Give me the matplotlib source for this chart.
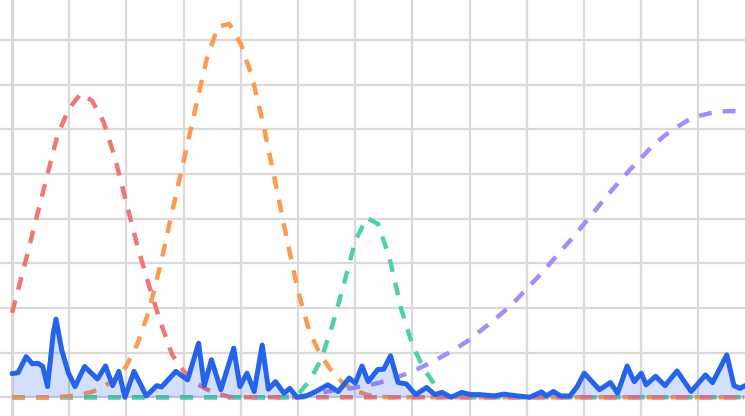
import matplotlib
matplotlib.use("Agg")
import matplotlib.pyplot as plt

# ---- data ----
dash_x = list(range(0, 130, 2))  # shared x positions for the dashed series (0..128)

red_vals = [18.9, 28.6, 38.8, 48.9, 58.9, 64.7, 68.0, 66.4, 61.7, 53.6,
            43.5, 33.5, 24.8, 16.7, 9.5, 5.9, 3.3, 1.8, 0.8, 0.1] + [0.0] * 45

orange_vals = [0.0, 0.0, 0.0, 0.0, 0.1, 0.2, 0.6, 1.2, 2.3, 4.1,
               7.0, 12.2, 19.6, 29.9, 41.5, 52.9, 64.3, 75.5, 83.0, 83.6,
               79.1, 71.7, 60.7, 48.4, 35.7, 23.8, 14.7, 9.3, 5.7, 3.0,
               1.5, 0.6, 0.1] + [0.0] * 32

green_vals = [0.0] * 25 + [0.6, 3.7, 8.3, 16.1, 25.2, 35.0, 40.2, 38.8, 31.2,
                           20.0, 11.7, 6.4, 2.6, 0.3] + [0.0] * 26

purple_vals = [0.0] * 25 + [0.1, 0.6, 1.0, 1.5, 1.8, 2.2, 2.6, 3.2, 3.9, 4.8,
                            5.8, 7.0, 8.3, 9.7, 11.2, 12.9, 15.0, 17.0, 19.2, 21.6,
                            24.3, 27.0, 29.9, 32.8, 35.7, 38.8, 41.9, 45.1, 48.0, 50.9,
                            53.6, 56.3, 58.5, 60.3, 61.9, 63.0, 63.6, 64.0, 64.1, 63.9]

blue_x = [0, 1.05, 2.47, 3.55, 4.55, 5.38, 6.21, 7.22, 7.69, 8.69, 9.84, 11.01,
          12.69, 14.93, 16.35, 17.59, 18.67, 19.74, 21.33, 23.48, 25.31, 26.14,
          28.64, 30.70, 32.62, 33.62, 34.86, 36.52, 38.76, 39.84, 41.08, 42.34,
          43.74, 44.83, 46.07, 47.55, 48.57, 49.81, 51.47, 53.13, 55.21, 57.03,
          58.95, 60.02, 61.19, 62.27, 63.93, 65.00, 66.17, 67.50, 68.92, 70.58,
          72.48, 73.90, 75.14, 76.80, 78.64, 80.12, 81.78, 84.27, 85.94, 88.43,
          90.51, 92.59, 93.41, 94.65, 95.91, 97.55, 98.81, 100.05, 102.71, 104.62,
          105.87, 107.54, 108.78, 110.02, 110.86, 112.52, 114.18, 116.26, 118.74,
          121.24, 122.48, 124.97, 126.22, 127.29, 128.15]
blue_y = [5.3, 5.5, 9.1, 7.5, 7.6, 6.9, 2.4, 14.4, 17.5, 10.6, 5.5, 2.4,
          6.9, 4.1, 7.0, 2.6, 5.8, 0.0, 5.8, 0.3, 2.6, 2.3,
          5.8, 3.9, 12.1, 2.6, 8.4, 1.7, 11.0, 2.4, 5.4, 1.3,
          11.7, 1.8, 3.5, 0.9, 2.0, 0.0, 0.3, 1.3, 2.8, 1.3,
          4.3, 3.2, 7.0, 3.5, 6.2, 6.3, 9.3, 3.3, 3.0, 0.6,
          2.2, 0.6, 1.1, 0.0, 1.1, 0.6, 0.6, 0.3, 0.7, 0.3,
          0.0, 1.2, 0.3, 1.3, 0.3, 0.3, 2.4, 5.4, 1.7, 3.3,
          0.9, 7.0, 3.5, 5.4, 2.8, 4.7, 2.6, 5.9, 1.3,
          5.0, 3.3, 9.5, 2.6, 2.0, 2.6]

x_ticks = list(range(0, 130, 10))
y_ticks = list(range(0, 90, 10))

# ---- figure ----
fig = plt.figure(figsize=(7.45, 4.16), dpi=100)
ax = fig.add_axes([0, 0, 1, 1])
ax.set_xlim(-2.10, 128.15)
ax.set_ylim(-4.19, 88.96)

ax.set_xticks(x_ticks)
ax.set_yticks(y_ticks)
ax.grid(True, color="#dadada", linewidth=1.6, zorder=0)
ax.tick_params(length=0, labelbottom=False, labelleft=False)
for s in ax.spines.values():
    s.set_visible(False)
ax.axvline(0, color="#c8c8c8", linewidth=1.8, zorder=0.5)

lw = 3.2
dash = (0, (2.9, 2.5))
ax.plot(dash_x, purple_vals, color="#a78bfa", lw=lw, ls=dash, zorder=2)
ax.plot(dash_x, green_vals, color="#4fd1a1", lw=lw, ls=dash, zorder=2.1)
ax.plot(dash_x, orange_vals, color="#fd9a50", lw=lw, ls=dash, zorder=2.2)
ax.plot(dash_x, red_vals, color="#f27676", lw=lw, ls=dash, zorder=2.3)

ax.fill_between(blue_x, blue_y, 0, color="#2563eb", alpha=0.2, linewidth=0, zorder=3)
ax.plot(blue_x, blue_y, color="#2563eb", lw=3.6, solid_joinstyle="round",
        solid_capstyle="round", zorder=4)

fig.savefig("out.png", dpi=100)
